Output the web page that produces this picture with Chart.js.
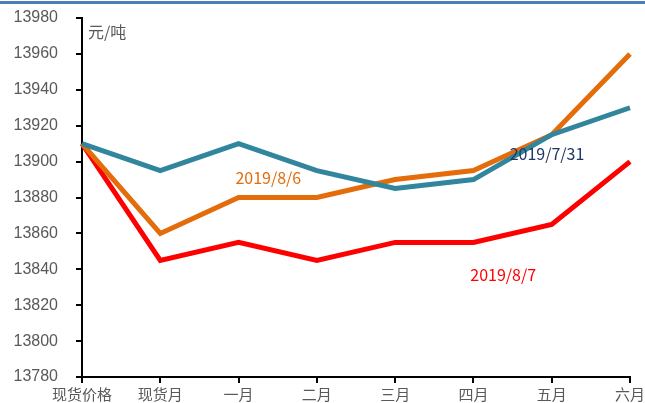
<!DOCTYPE html>
<html>
<head>
<meta charset="utf-8">
<script src="https://cdn.jsdelivr.net/npm/chart.js@4/dist/chart.umd.min.js"></script>
<style>
    html, body { margin: 0; padding: 0; background: #fff; }
    #wrap { position: relative; width: 645px; height: 403px; }
</style>
</head>
<body>
<div id="wrap"><canvas id="chart" width="645" height="403"></canvas></div>
<script>
// категории по оси X
const categories = ['现货价格', '现货月', '一月', '二月', '三月', '四月', '五月', '六月'];
// цены, 元/吨
const series0731 = [13910, 13895, 13910, 13895, 13885, 13890, 13915, 13930];
const series0806 = [13910, 13860, 13880, 13880, 13890, 13895, 13915, 13960];
const series0807 = [13910, 13845, 13855, 13845, 13855, 13855, 13865, 13900];
const seriesNames = ['2019/7/31', '2019/8/6', '2019/8/7'];
const yTicks = [13780, 13800, 13820, 13840, 13860, 13880, 13900, 13920, 13940, 13960, 13980];

const tickFont = {family: '"Liberation Sans", "Noto Sans CJK SC", sans-serif', size: 16};
const cjkFont = '"Noto Sans CJK SC", "Liberation Sans", sans-serif';

// подписи серий прямо на графике (индекс категории, значение)
const textLabels = [
    {text: seriesNames[1], x: 2.38, y: 13891, color: '#E46C0A'},
    {text: seriesNames[0], x: 5.94, y: 13904, color: '#1F3864'},
    {text: seriesNames[2], x: 5.38, y: 13837, color: '#FF0000'},
];

const labelsPlugin = {
    id: 'labels',
    afterDraw(chart) {
        const ctx = chart.ctx;
        const xs = chart.scales.x;
        const ys = chart.scales.y;
        ctx.save();
        // синяя полоса сверху
        ctx.fillStyle = '#4A7EBB';
        ctx.fillRect(0, 1, chart.width, 3);

        ctx.font = '16px ' + cjkFont;
        ctx.textAlign = 'center';
        ctx.textBaseline = 'middle';
        textLabels.forEach(l => {
            ctx.fillStyle = l.color;
            ctx.fillText(l.text, xs.getPixelForValue(l.x), ys.getPixelForValue(l.y));
        });
        // единицы измерения
        ctx.fillStyle = '#595959';
        ctx.textAlign = 'left';
        ctx.fillText('元/吨', xs.left + 6, ys.getPixelForValue(13972));
        ctx.restore();
    }
};

const makeSet = (label, data, color) => ({
    label: label,
    data: data,
    borderColor: color,
    backgroundColor: color,
    borderWidth: 5,
    pointRadius: 0,
    tension: 0,
    fill: false
});

new Chart(document.querySelector('#chart'), {
    type: 'line',
    data: {
        labels: categories,
        datasets: [
            makeSet(seriesNames[0], series0731, '#31859C'),
            makeSet(seriesNames[1], series0806, '#E46C0A'),
            makeSet(seriesNames[2], series0807, '#FF0000')
        ]
    },
    options: {
        responsive: false,
        animation: false,
        layout: {padding: {top: 18, right: 15, left: 0, bottom: 0}},
        plugins: {legend: {display: false}, tooltip: {enabled: false}},
        scales: {
            x: {
                offset: false,
                grid: {display: true, drawOnChartArea: false, drawTicks: true, tickLength: 6, color: '#000', lineWidth: 2},
                border: {color: '#000', width: 2},
                ticks: {color: '#595959', font: {family: cjkFont, size: 15}, padding: 2, maxRotation: 0, autoSkip: false},
                afterFit(scale) {
                    scale.height = 26;
                    scale.paddingLeft = 0;
                    scale.paddingRight = 0;
                }
            },
            y: {
                min: 13780,
                max: 13980,
                afterBuildTicks(scale) { scale.ticks = yTicks.map(v => ({value: v})); },
                grid: {display: true, drawOnChartArea: false, drawTicks: true, tickLength: 6, color: '#000', lineWidth: 2},
                border: {color: '#000', width: 2},
                ticks: {color: '#595959', font: tickFont, padding: 18, callback: v => String(v)},
                afterFit(scale) {
                    scale.width = 82;
                    scale.paddingTop = 0;
                    scale.paddingBottom = 0;
                }
            }
        }
    },
    plugins: [labelsPlugin]
});
</script>
</body>
</html>
